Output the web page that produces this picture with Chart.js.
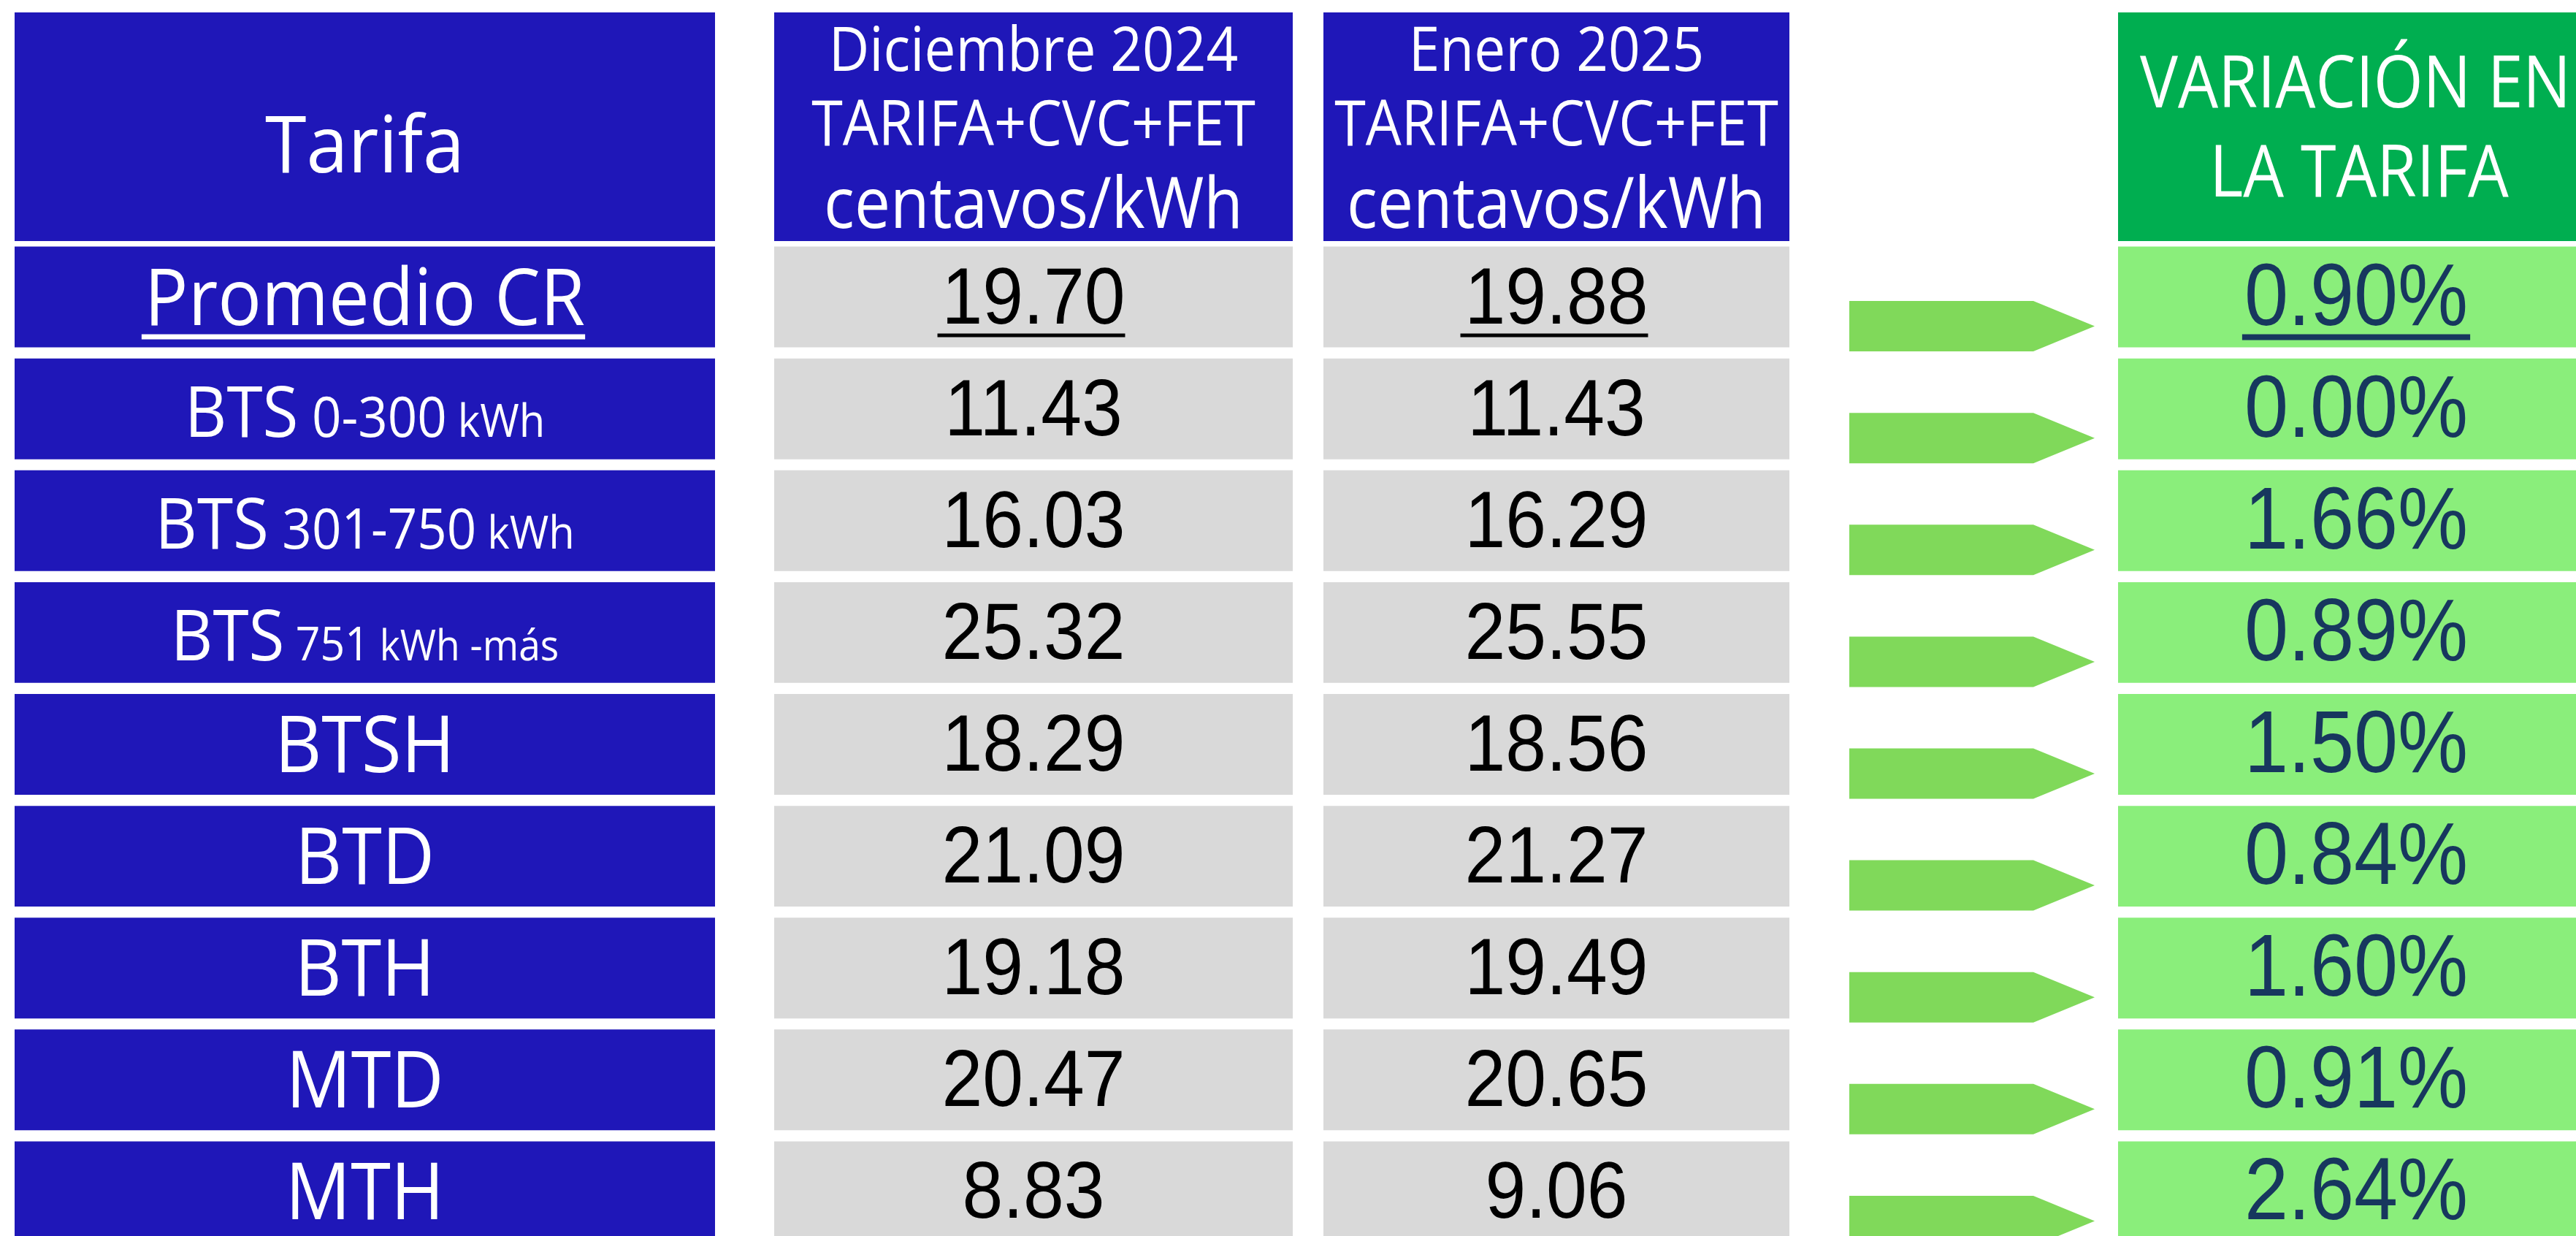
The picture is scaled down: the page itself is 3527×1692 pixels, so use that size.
<!DOCTYPE html>
<html>
<head>
<meta charset="utf-8">
<style>
html,body{margin:0;padding:0;background:#fff;overflow:hidden}
canvas{display:block}
</style>
<script src="https://cdn.jsdelivr.net/npm/chart.js@4.4.1/dist/chart.umd.min.js"></script>
</head>
<body>
<canvas id="c" width="3527" height="1720" style="width:3527px;height:1720px"></canvas>
<script>
// ---------------- DATA ----------------
const tarifas = ['Promedio CR', 'BTS 0-300 kWh', 'BTS 301-750 kWh', 'BTS 751 kWh -más', 'BTSH', 'BTD', 'BTH', 'MTD', 'MTH'];
const dic2024 = [19.70, 11.43, 16.03, 25.32, 18.29, 21.09, 19.18, 20.47, 8.83];
const ene2025 = [19.88, 11.43, 16.29, 25.55, 18.56, 21.27, 19.49, 20.65, 9.06];
const variacion = [0.90, 0.00, 1.66, 0.89, 1.50, 0.84, 1.60, 0.91, 2.64];
const headerTarifa = ['Tarifa'];
const headerDic = ['Diciembre 2024', 'TARIFA+CVC+FET', 'centavos/kWh'];
const headerEne = ['Enero 2025', 'TARIFA+CVC+FET', 'centavos/kWh'];
const headerVar = ['VARIACIÓN EN', 'LA TARIFA'];

// ---------------- LAYOUT / STYLE ----------------
const COLS = {
  tarifa: [20, 979],
  dic: [1060, 1770],
  ene: [1812, 2450],
  arrow: [2532, 2784, 2868],
  vari: [2900, 3560]
};
const HEADER_TOP = 17;
const BLUE = '#1f17b8', GRAY = '#d9d9d9', GREEN_H = '#00ae50', GREEN_C = '#8aee7b', ARROW = '#80d95a', NAVY = '#17375e';
const LABEL_FONT = '"Open Sans", "Noto Sans", sans-serif';
const NUM_FONT = '"Liberation Sans", Arial, sans-serif';
const UNDERLINE_ROWS = new Set([0]);
const SUB_SIZES = { 'BTS 751 kWh -más': [64, 58] };

function cells(col) { return tarifas.map(() => [col[0], col[1]]); }

function txt(ctx, s, x, y, size, family, color, sx, align, maxW) {
  ctx.save();
  ctx.font = `${size}px ${family}`;
  ctx.fillStyle = color;
  ctx.textBaseline = 'alphabetic';
  ctx.textAlign = align || 'center';
  const m = ctx.measureText(s).width;
  let k = sx;
  if (maxW && m * k > maxW) k = maxW / m;
  ctx.translate(x, y);
  ctx.scale(k, 1);
  ctx.fillText(s, 0, 0);
  ctx.restore();
  return m * k;
}
function measure(ctx, s, size, family, sx) {
  ctx.save();
  ctx.font = `${size}px ${family}`;
  const w = ctx.measureText(s).width * sx;
  ctx.restore();
  return w;
}

function labelPieces(label) {
  if (label.startsWith('BTS ')) {
    const sub = SUB_SIZES[label] || [77, 63];
    const rest = label.slice(4).split(' ');
    const pcs = [{ s: 'BTS', size: 97 }];
    rest.forEach(t => pcs.push({ s: t, size: /\d/.test(t) ? sub[0] : sub[1] }));
    return pcs;
  }
  return [{ s: label, size: 108 }];
}

const tablePlugin = {
  id: 'tablePlugin',
  beforeDatasetsDraw(chart) {
    const { ctx, chartArea, scales: { x } } = chart;
    const top = HEADER_TOP, bottom = chartArea.top;
    const hdr = [[COLS.tarifa, BLUE], [COLS.dic, BLUE], [COLS.ene, BLUE], [COLS.vari, GREEN_H]];
    ctx.save();
    hdr.forEach(([c, col]) => {
      const x0 = x.getPixelForValue(c[0]), x1 = x.getPixelForValue(c[1]);
      ctx.fillStyle = col;
      ctx.fillRect(x0, top, x1 - x0, bottom - top);
    });
    ctx.restore();
  },
  afterDatasetsDraw(chart) {
    const { ctx, scales: { x, y } } = chart;
    const cx = c => (x.getPixelForValue(c[0]) + x.getPixelForValue(c[1])) / 2;
    const ht = HEADER_TOP;

    // header texts
    txt(ctx, headerTarifa[0], cx(COLS.tarifa), ht + 219, 108, LABEL_FONT, '#fff', 0.95);
    const hs = [85, 86, 97], hb = [80, 182, 295];
    headerDic.forEach((s, i) => txt(ctx, s, cx(COLS.dic), ht + hb[i], hs[i], LABEL_FONT, '#fff', 0.9));
    headerEne.forEach((s, i) => txt(ctx, s, cx(COLS.ene), ht + hb[i], hs[i], LABEL_FONT, '#fff', 0.9));
    txt(ctx, headerVar[0], 3225, ht + 130, 98, LABEL_FONT, '#fff', 0.9, 'center', 590);
    txt(ctx, headerVar[1], 3230, ht + 252, 98, LABEL_FONT, '#fff', 0.9);

    tarifas.forEach((lab, i) => {
      const c = y.getPixelForValue(i);
      // arrow
      const ax0 = x.getPixelForValue(COLS.arrow[0]);
      const ax1 = x.getPixelForValue(COLS.arrow[1]);
      const ax2 = x.getPixelForValue(COLS.arrow[2]);
      const ay = c + 40, ah = 34.5;
      ctx.save();
      ctx.fillStyle = ARROW;
      ctx.beginPath();
      ctx.moveTo(ax0, ay - ah); ctx.lineTo(ax1, ay - ah); ctx.lineTo(ax2, ay);
      ctx.lineTo(ax1, ay + ah); ctx.lineTo(ax0, ay + ah); ctx.closePath();
      ctx.fill();
      ctx.restore();

      const ul = UNDERLINE_ROWS.has(i);
      // label
      const pcs = labelPieces(lab);
      const sx = 0.92;
      let total = 0;
      pcs.forEach((p, k) => {
        p.w = measure(ctx, p.s, p.size, LABEL_FONT, sx);
        p.gap = k ? measure(ctx, ' ', p.size, LABEL_FONT, sx) : 0;
        total += p.w + p.gap;
      });
      let lx = cx(COLS.tarifa) - total / 2;
      const lb = c + 38;
      pcs.forEach(p => {
        lx += p.gap;
        txt(ctx, p.s, lx, lb, p.size, LABEL_FONT, '#fff', sx, 'left');
        lx += p.w;
      });
      if (ul) {
        ctx.fillStyle = '#fff';
        ctx.fillRect(cx(COLS.tarifa) - total / 2 - 4, lb + 13, total + 4, 7);
      }
      // values
      const vb = c + 36;
      [[dic2024, COLS.dic], [ene2025, COLS.ene]].forEach(([arr, col]) => {
        const s = arr[i].toFixed(2);
        const w = txt(ctx, s, cx(col), vb, 109, NUM_FONT, '#000', 0.92);
        if (ul) { ctx.fillStyle = '#000'; ctx.fillRect(cx(col) - w / 2 - 6, vb + 14, w + 6, 5); }
      });
      // percentage
      const pb = c + 38;
      const ps = variacion[i].toFixed(2) + '%';
      const pw = txt(ctx, ps, cx(COLS.vari) - 4, pb, 120, NUM_FONT, NAVY, 0.9);
      if (ul) { ctx.fillStyle = NAVY; ctx.fillRect(cx(COLS.vari) - 4 - pw / 2 - 3, pb + 13, pw + 6, 8); }
    });
  }
};

const base = { grouped: false, barPercentage: 0.901, categoryPercentage: 1, borderWidth: 0, borderSkipped: false };
new Chart(document.getElementById('c'), {
  type: 'bar',
  data: {
    labels: tarifas,
    datasets: [
      Object.assign({ label: 'Tarifa', data: cells(COLS.tarifa), backgroundColor: BLUE }, base),
      Object.assign({ label: 'Diciembre 2024', data: cells(COLS.dic), backgroundColor: GRAY }, base),
      Object.assign({ label: 'Enero 2025', data: cells(COLS.ene), backgroundColor: GRAY }, base),
      Object.assign({ label: 'Variación', data: cells(COLS.vari), backgroundColor: GREEN_C }, base)
    ]
  },
  options: {
    indexAxis: 'y',
    responsive: false,
    animation: false,
    devicePixelRatio: 1,
    layout: { padding: { top: 330, bottom: 12, left: 0, right: 0 } },
    scales: {
      x: { type: 'linear', min: 0, max: 3527, display: false },
      y: { type: 'category', display: false, offset: true }
    },
    plugins: { legend: { display: false }, tooltip: { enabled: false } }
  },
  plugins: [tablePlugin]
});
</script>
</body>
</html>
